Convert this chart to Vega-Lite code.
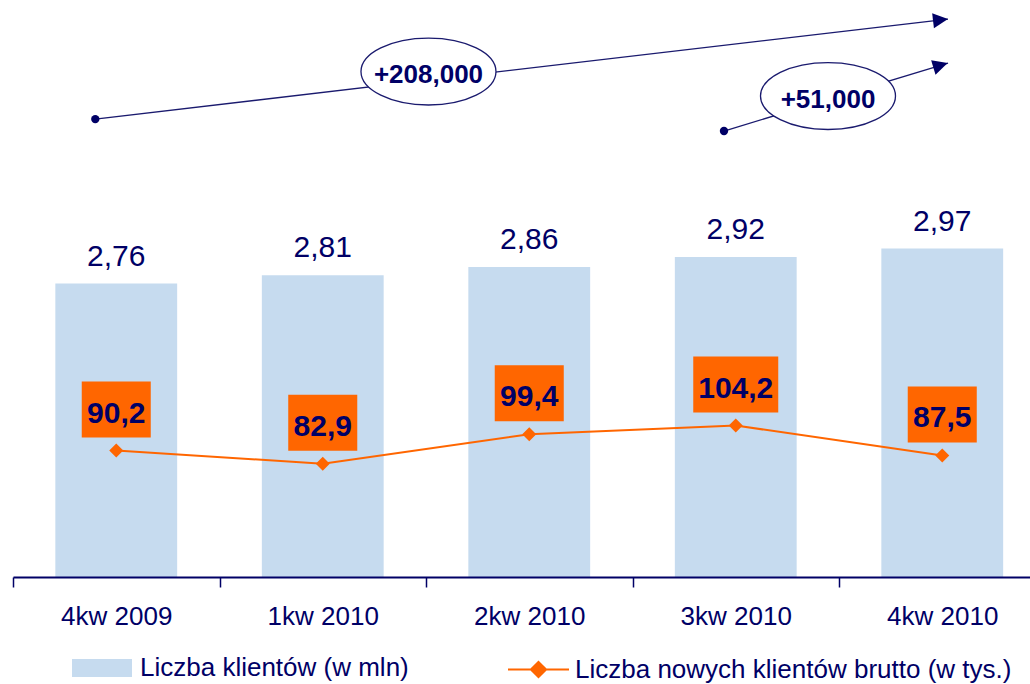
{
  "$schema": "https://vega.github.io/schema/vega-lite/v6.json",
  "width": 1017,
  "height": 577,
  "autosize": {"type": "none"},
  "padding": {"left": 13, "top": 0, "right": 0, "bottom": 107},
  "background": "white",
  "config": {
    "view": {"stroke": null},
    "font": "Liberation Sans",
    "locale": {"number": {"decimal": ",", "thousands": " ", "grouping": [3], "currency": ["", " zł"]}}
  },
  "datasets": {
    "q": [
      {"kwartal": "4kw 2009", "klienci": 2.76, "nowi": 90.2},
      {"kwartal": "1kw 2010", "klienci": 2.81, "nowi": 82.9},
      {"kwartal": "2kw 2010", "klienci": 2.86, "nowi": 99.4},
      {"kwartal": "3kw 2010", "klienci": 2.92, "nowi": 104.2},
      {"kwartal": "4kw 2010", "klienci": 2.97, "nowi": 87.5}
    ],
    "arrows": [
      {"arrow": "a", "x0": 0.3985, "y0": 3.747, "x1": 4.528, "y1": 4.347, "hx": 4.4915, "hy": 4.342},
      {"arrow": "b", "x0": 3.443, "y0": 3.6755, "x1": 4.528, "y1": 4.0834, "hx": 4.4915, "hy": 4.0696}
    ],
    "bubbles": [
      {"t": "+208,000", "x": 2.012, "y": 4.0324},
      {"t": "+51,000", "x": 3.9467, "y": 3.8854}
    ]
  },
  "resolve": {"scale": {"x": "independent", "y": "independent"}},
  "layer": [
    {
      "data": {"name": "q"},
      "mark": {"type": "bar", "width": {"band": 0.59}},
      "encoding": {
        "x": {"field": "kwartal", "type": "nominal", "sort": null,
          "scale": {"range": [0, 1032.5], "paddingInner": 0, "paddingOuter": 0},
          "axis": {"title": null, "labelAngle": 0, "labelFont": "Liberation Sans", "labelFontSize": 26, "labelColor": "#000066",
            "domainColor": "#000066", "domainWidth": 2, "ticks": true, "tickColor": "#000066", "tickSize": 10, "tickWidth": 1.5,
            "tickBand": "extent", "labelPadding": 16, "grid": false, "zindex": 1}},
        "y": {"field": "klienci", "type": "quantitative", "scale": {"domain": [1, 4.4614], "nice": false, "zero": false}, "axis": null},
        "y2": {"datum": 1},
        "fill": {"datum": "Liczba klientów (w mln)", "type": "nominal", "scale": {"range": ["#C6DBEF"]},
          "legend": {"title": null, "orient": "none", "legendX": 59, "legendY": 638, "padding": 0,
            "symbolType": "M-1,-0.3H1V0.3H-1Z", "symbolSize": 3600, "symbolStrokeWidth": 0,
            "labelFont": "Liberation Sans", "labelFontSize": 26, "labelColor": "#000066", "labelOffset": 8, "labelLimit": 0}}
      }
    },
    {
      "data": {"name": "q"},
      "mark": {"type": "text", "dy": -18, "baseline": "alphabetic", "fontSize": 30, "font": "Liberation Sans", "color": "#000066"},
      "encoding": {
        "x": {"field": "kwartal", "type": "nominal", "sort": null,
          "scale": {"range": [0, 1032.5], "paddingInner": 0, "paddingOuter": 0}, "axis": null},
        "y": {"field": "klienci", "type": "quantitative", "scale": {"domain": [1, 4.4614], "nice": false, "zero": false}, "axis": null},
        "text": {"field": "klienci", "type": "quantitative", "format": ".2f"}
      }
    },
    {
      "data": {"name": "q"},
      "mark": {"type": "line", "strokeWidth": 2},
      "encoding": {
        "x": {"field": "kwartal", "type": "nominal", "sort": null,
          "scale": {"range": [0, 1032.5], "paddingInner": 0, "paddingOuter": 0}, "axis": null},
        "y": {"field": "nowi", "type": "quantitative", "scale": {"domain": [19.6, 341.9], "nice": false, "zero": false}, "axis": null},
        "stroke": {"datum": "Liczba nowych klientów brutto (w tys.)", "type": "nominal", "scale": {"range": ["#FF6600"]},
          "legend": {"title": null, "orient": "none", "legendX": 494, "legendY": 638, "padding": 0,
            "symbolType": "M-1,0H1M0,-0.25L0.25,0L0,0.25L-0.25,0Z", "symbolSize": 3721, "symbolStrokeWidth": 2,
            "symbolFillColor": "#FF6600", "symbolStrokeColor": "#FF6600",
            "labelFont": "Liberation Sans", "labelFontSize": 26, "labelColor": "#000066", "labelOffset": 5, "labelLimit": 0,
            "encode": {"symbols": {"update": {"fill": {"value": "#FF6600"}, "stroke": {"value": "#FF6600"}, "strokeWidth": {"value": 2}, "opacity": {"value": 1}}}}}}
      }
    },
    {
      "data": {"name": "q"},
      "mark": {"type": "point", "shape": "diamond", "filled": true, "size": 196, "color": "#FF6600", "opacity": 1},
      "encoding": {
        "x": {"field": "kwartal", "type": "nominal", "sort": null,
          "scale": {"range": [0, 1032.5], "paddingInner": 0, "paddingOuter": 0}, "axis": null},
        "y": {"field": "nowi", "type": "quantitative", "scale": {"domain": [19.6, 341.9], "nice": false, "zero": false}, "axis": null}
      }
    },
    {
      "data": {"name": "q"},
      "mark": {"type": "point", "filled": true, "size": 7225, "color": "#FF6600", "opacity": 1, "yOffset": -41},
      "encoding": {
        "x": {"field": "kwartal", "type": "nominal", "sort": null,
          "scale": {"range": [0, 1032.5], "paddingInner": 0, "paddingOuter": 0}, "axis": null},
        "y": {"field": "nowi", "type": "quantitative", "scale": {"domain": [19.6, 341.9], "nice": false, "zero": false}, "axis": null},
        "shape": {"condition": {"test": "datum.nowi >= 100", "value": "M-1,-0.659H1V0.659H-1Z"}, "value": "M-0.812,-0.659H0.812V0.659H-0.812Z"}
      }
    },
    {
      "data": {"name": "q"},
      "mark": {"type": "text", "dy": -28, "baseline": "alphabetic", "fontSize": 30, "fontWeight": "bold", "font": "Liberation Sans", "color": "#000066"},
      "encoding": {
        "x": {"field": "kwartal", "type": "nominal", "sort": null,
          "scale": {"range": [0, 1032.5], "paddingInner": 0, "paddingOuter": 0}, "axis": null},
        "y": {"field": "nowi", "type": "quantitative", "scale": {"domain": [19.6, 341.9], "nice": false, "zero": false}, "axis": null},
        "text": {"field": "nowi", "type": "quantitative", "format": ".1f"}
      }
    },
    {
      "data": {"name": "arrows"},
      "mark": {"type": "rule", "color": "#1A1A6E", "strokeWidth": 1.3},
      "encoding": {
        "x": {"field": "x0", "type": "quantitative", "scale": {"domain": [0, 5], "range": [0, 1032.5], "nice": false, "zero": false}, "axis": null},
        "y": {"field": "y0", "type": "quantitative", "scale": {"domain": [1, 4.4614], "nice": false, "zero": false}, "axis": null},
        "x2": {"field": "x1"},
        "y2": {"field": "y1"}
      }
    },
    {
      "data": {"name": "arrows"},
      "mark": {"type": "point", "shape": "circle", "filled": true, "size": 70, "color": "#000066", "opacity": 1},
      "encoding": {
        "x": {"field": "x0", "type": "quantitative", "scale": {"domain": [0, 5], "range": [0, 1032.5], "nice": false, "zero": false}, "axis": null},
        "y": {"field": "y0", "type": "quantitative", "scale": {"domain": [1, 4.4614], "nice": false, "zero": false}, "axis": null}
      }
    },
    {
      "data": {"name": "arrows"},
      "mark": {"type": "point", "shape": "M-1,-1L1,0L-1,1Z", "filled": true, "size": 225, "color": "#000066", "opacity": 1},
      "encoding": {
        "x": {"field": "hx", "type": "quantitative", "scale": {"domain": [0, 5], "range": [0, 1032.5], "nice": false, "zero": false}, "axis": null},
        "y": {"field": "hy", "type": "quantitative", "scale": {"domain": [1, 4.4614], "nice": false, "zero": false}, "axis": null},
        "angle": {"condition": {"test": "datum.arrow == 'a'", "value": -6.8}, "value": -17}
      }
    },
    {
      "data": {"name": "bubbles"},
      "mark": {"type": "point", "shape": "M-1,0C-1,-0.274,-0.552,-0.496,0,-0.496C0.552,-0.496,1,-0.274,1,0C1,0.274,0.552,0.496,0,0.496C-0.552,0.496,-1,0.274,-1,0Z",
        "filled": true, "size": 18225, "fill": "white", "stroke": "#1A1A6E", "strokeWidth": 1.3, "opacity": 1, "fillOpacity": 1, "strokeOpacity": 1},
      "encoding": {
        "x": {"field": "x", "type": "quantitative", "scale": {"domain": [0, 5], "range": [0, 1032.5], "nice": false, "zero": false}, "axis": null},
        "y": {"field": "y", "type": "quantitative", "scale": {"domain": [1, 4.4614], "nice": false, "zero": false}, "axis": null}
      }
    },
    {
      "data": {"name": "bubbles"},
      "mark": {"type": "text", "dy": 11.5, "baseline": "alphabetic", "fontSize": 26, "fontWeight": "bold", "font": "Liberation Sans", "color": "#000066"},
      "encoding": {
        "x": {"field": "x", "type": "quantitative", "scale": {"domain": [0, 5], "range": [0, 1032.5], "nice": false, "zero": false}, "axis": null},
        "y": {"field": "y", "type": "quantitative", "scale": {"domain": [1, 4.4614], "nice": false, "zero": false}, "axis": null},
        "text": {"field": "t", "type": "nominal"}
      }
    }
  ]
}
